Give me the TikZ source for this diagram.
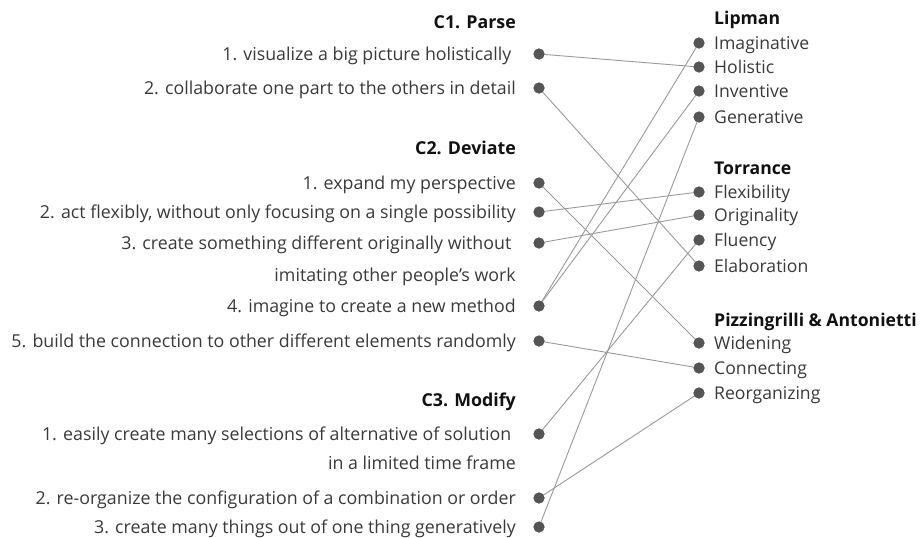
\documentclass[tikz,border=0pt]{standalone}
\usepackage{fontspec}
\setmainfont{Open Sans}
\definecolor{txt}{HTML}{3A3A3A}
\definecolor{hdr}{HTML}{111111}
\definecolor{dotc}{HTML}{555555}
\definecolor{linec}{HTML}{9A9A9A}
\tikzset{
  litem/.style={anchor=base east, inner sep=0pt, text=txt, font=\fontsize{17.8}{21}\selectfont, yshift=-6.5pt},
  lhead/.style={anchor=base east, inner sep=0pt, text=hdr, font=\fontsize{17.8}{21}\selectfont\bfseries, yshift=-6.5pt},
  ritem/.style={anchor=base west, inner sep=0pt, text=txt, font=\fontsize{17.6}{21}\selectfont, yshift=-6.5pt},
  rhead/.style={anchor=base west, inner sep=0pt, text=hdr, font=\fontsize{17.6}{21}\selectfont\bfseries, yshift=-6.5pt},
  dot/.style={circle, fill=dotc, inner sep=0pt, minimum size=11pt},
  link/.style={draw=linec, line width=0.9pt}
}
\begin{document}
\begin{tikzpicture}[x=1pt,y=-1pt]
\useasboundingbox[fill=white] (0,0) rectangle (921,538);
% left column
\node[lhead] (c1) at (516,22) {C1. Parse};
\node[litem] (t11) at (516,54) {1. visualize a big picture holistically\hspace*{4.5pt}};
\node[litem] (t12) at (516,88) {2. collaborate one part to the others in detail};
\node[lhead] (c2) at (516,148) {C2. Deviate};
\node[litem] (t21) at (516,183) {1. expand my perspective};
\node[litem] (t22) at (516,212) {2. act flexibly, without only focusing on a single possibility};
\node[litem] (t23) at (516,243) {3. create something different originally without\hspace*{4.5pt}};
\node[litem] (t23b) at (516,275) {imitating other people’s work};
\node[litem] (t24) at (516,306) {4. imagine to create a new method};
\node[litem] (t25) at (516,341) {5. build the connection to other different elements randomly};
\node[lhead] (c3) at (516,400) {C3. Modify};
\node[litem] (t31) at (516,434) {1. easily create many selections of alternative of solution\hspace*{4.5pt}};
\node[litem] (t31b) at (516,463) {in a limited time frame};
\node[litem] (t32) at (516,498) {2. re-organize the configuration of a combination or order};
\node[litem] (t33) at (516,527) {3. create many things out of one thing generatively};
% left dots
\node[dot] (l11) at (539,54) {};
\node[dot] (l12) at (539,88) {};
\node[dot] (l21) at (539,183) {};
\node[dot] (l22) at (539,212) {};
\node[dot] (l23) at (539,243) {};
\node[dot] (l24) at (539,306) {};
\node[dot] (l25) at (539,341) {};
\node[dot] (l31) at (539,434) {};
\node[dot] (l32) at (539,498) {};
\node[dot] (l33) at (539,527) {};
% right column
\node[rhead] (lip) at (714,18) {Lipman};
\node[dot] (rIma) at (699,43) {};
\node[ritem] at (714,43) {Imaginative};
\node[dot] (rHol) at (699,67) {};
\node[ritem] at (714,67) {Holistic};
\node[dot] (rInv) at (699,91) {};
\node[ritem] at (714,91) {Inventive};
\node[dot] (rGen) at (699,117) {};
\node[ritem] at (714,117) {Generative};
\node[rhead] (tor) at (714,168) {Torrance};
\node[dot] (rFle) at (699,192) {};
\node[ritem] at (714,192) {Flexibility};
\node[dot] (rOri) at (699,215) {};
\node[ritem] at (714,215) {Originality};
\node[dot] (rFlu) at (699,240) {};
\node[ritem] at (714,240) {Fluency};
\node[dot] (rEla) at (699,266) {};
\node[ritem] at (714,266) {Elaboration};
\node[rhead] (piz) at (714,320) {Pizzingrilli \& Antonietti};
\node[dot] (rWid) at (699,343) {};
\node[ritem] at (714,343) {Widening};
\node[dot] (rCon) at (699,368) {};
\node[ritem] at (714,368) {Connecting};
\node[dot] (rReo) at (699,393) {};
\node[ritem] at (714,393) {Reorganizing};
% links
\draw[link] (l11.center) -- (rHol.center);
\draw[link] (l12.center) -- (rEla.center);
\draw[link] (l21.center) -- (rWid.center);
\draw[link] (l22.center) -- (rFle.center);
\draw[link] (l23.center) -- (rOri.center);
\draw[link] (l24.center) -- (rIma.center);
\draw[link] (l24.center) -- (rInv.center);
\draw[link] (l25.center) -- (rCon.center);
\draw[link] (l31.center) -- (rFlu.center);
\draw[link] (l32.center) -- (rReo.center);
\draw[link] (l33.center) -- (rGen.center);
% redraw dots on top
\foreach \n in {l11,l12,l21,l22,l23,l24,l25,l31,l32,l33,rIma,rHol,rInv,rGen,rFle,rOri,rFlu,rEla,rWid,rCon,rReo}
  \fill[dotc] (\n.center) circle (5.5pt);
\end{tikzpicture}
\end{document}
